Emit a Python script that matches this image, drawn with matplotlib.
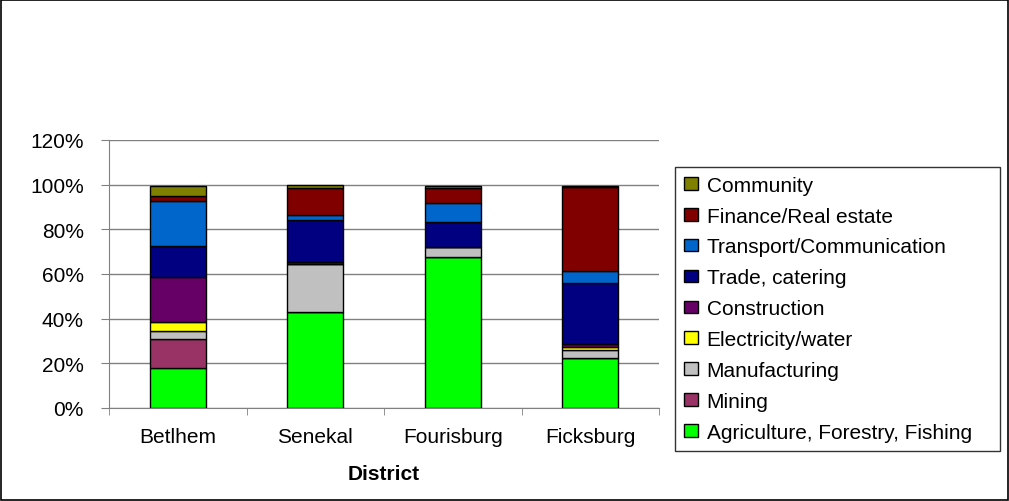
import matplotlib
matplotlib.use("Agg")
import matplotlib.pyplot as plt
import numpy as np
from matplotlib.patches import Rectangle

plt.rcParams['font.family'] = ['Liberation Sans', 'DejaVu Sans']

districts = ["Betlhem", "Senekal", "Fourisburg", "Ficksburg"]
sectors = ["Agriculture, Forestry, Fishing", "Mining", "Manufacturing", "Electricity/water",
           "Construction", "Trade, catering", "Transport/Communication",
           "Finance/Real estate", "Community"]
agriculture = [17.7, 43.2, 67.5, 22.5]
mining = [13.3, 0.0, 0.0, 0.0]
manufacturing = [3.5, 21.3, 4.5, 3.4]
electricity = [4.0, 0.0, 0.0, 1.5]
construction = [20.3, 1.0, 0.0, 1.4]
trade = [13.6, 18.9, 11.2, 27.1]
transport = [20.4, 2.1, 8.7, 5.6]
finance = [2.1, 12.1, 6.8, 37.3]
community = [4.5, 1.2, 0.8, 0.6]

series = [agriculture, mining, manufacturing, electricity, construction,
          trade, transport, finance, community]
colors = ["#00FF00", "#993366", "#C0C0C0", "#FFFF00", "#660066",
          "#000080", "#0066CC", "#800000", "#808000"]

FS = 15
fig = plt.figure(figsize=(10.09, 5.02), dpi=100)
ax = fig.add_axes([109/1009, 1-409/502, 550/1009, 268/502])

x = np.arange(len(districts))
bottom = np.zeros(len(districts))
handles = []
for vals, col, name in zip(series, colors, sectors):
    v = np.array(vals) / 100.0
    b = ax.bar(x, v, 0.41, bottom=bottom, color=col, edgecolor="black",
               linewidth=1.0, label=name, zorder=3)
    handles.append(b)
    bottom += v

ax.set_xlim(-0.5, 3.5)
ax.set_ylim(0, 1.2)
ticks = np.arange(0, 1.21, 0.2)
ax.set_yticks(ticks)
ax.set_yticklabels([f"{int(round(t*100))}%" for t in ticks], fontsize=FS)
ax.set_xticks(x)
ax.set_xticklabels(districts, fontsize=FS)
ax.set_xticks(np.arange(-0.5, 3.6, 1.0), minor=True)
ax.yaxis.grid(True, color="#808080", linewidth=1.0, zorder=0)
ax.set_axisbelow(True)
for s in ["top", "right"]:
    ax.spines[s].set_visible(False)
ax.spines["left"].set_color("#808080")
ax.spines["bottom"].set_color("#808080")
ax.tick_params(axis="y", length=6, color="#808080", direction="out", pad=12)
ax.tick_params(axis="x", which="major", length=0, pad=14)
ax.tick_params(axis="x", which="minor", length=5, color="#808080", direction="out")
ax.set_xlabel("District", fontsize=FS, fontweight="bold")
ax.xaxis.set_label_coords(0.5, -(480 - 409) / 268)
ax.xaxis.label.set_va("baseline")

leg = fig.legend(handles[::-1], sectors[::-1], loc="upper left",
                 bbox_to_anchor=(675/1009, 1-168/502, 325/1009, 0), mode="expand",
                 fontsize=FS, frameon=True, fancybox=False, edgecolor="black",
                 handlelength=0.7, handleheight=0.55, labelspacing=0.57,
                 handletextpad=0.4, borderpad=0.42, borderaxespad=0)
leg.get_frame().set_linewidth(1.0)

fig.patches.append(Rectangle((0.001, 0.001), 0.998, 0.997, transform=fig.transFigure,
                             fill=False, edgecolor="black", linewidth=1.2))

fig.savefig("out.png", dpi=100)
